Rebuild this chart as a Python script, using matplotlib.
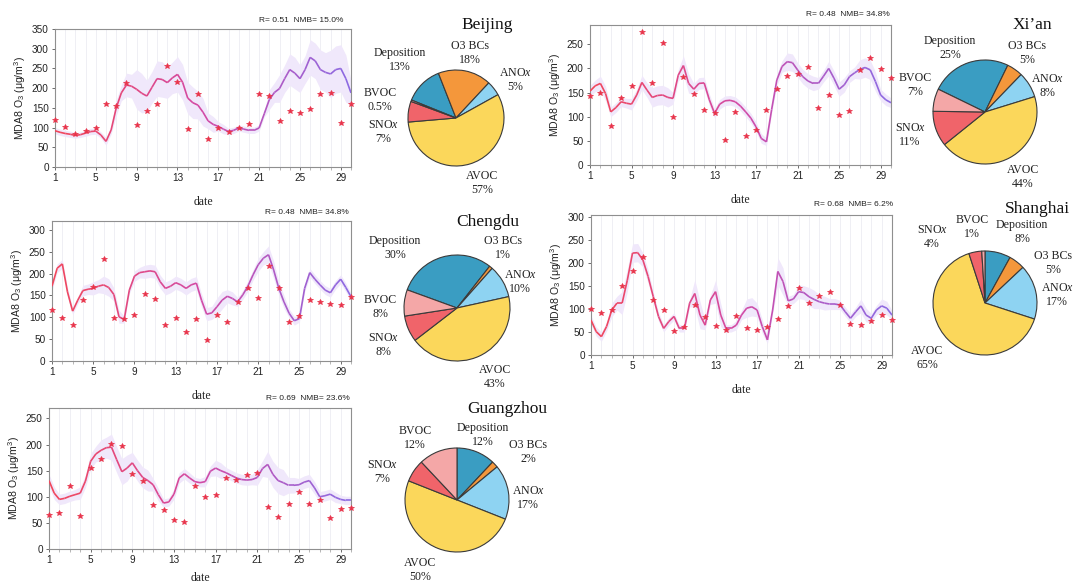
import numpy as np
import matplotlib
matplotlib.use("Agg")
import matplotlib.pyplot as plt
from matplotlib.collections import LineCollection
from matplotlib.colors import LinearSegmentedColormap

plt.rcParams['font.family'] = 'Liberation Sans'
plt.rcParams['mathtext.fontset'] = 'custom'
plt.rcParams['mathtext.rm'] = 'Liberation Sans'
plt.rcParams['mathtext.it'] = 'Liberation Serif:italic'

# ---------------- data ----------------
days = list(range(1, 31))
half_days = [1 + 0.5 * i for i in range(59)]
xtick_days = [1, 5, 9, 13, 17, 21, 25, 29]

beijing_obs = [120, 102, 83, 91, 99, 160, 155, 213, 107, 141, 160, 256, 216, 97, 184,
               71, 100, 88, 100, 110, 186, 180, 116, 141, 136, 147, 185, 188, 112, 160]
beijing_model = [92, 88, 85, 83, 80, 82, 86, 90, 91, 81, 65, 94, 150, 188, 208, 205, 197, 187,
                 180, 202, 224, 222, 214, 226, 235, 215, 175, 163, 157, 139, 117, 108, 103, 96,
                 90, 93, 99, 96, 93, 93, 99, 135, 171, 189, 199, 224, 247, 238, 224, 247, 278,
                 269, 247, 240, 236, 247, 250, 224, 188]
beijing_spread = [8, 8, 7, 8, 8, 10, 20, 30, 50, 40, 45, 40, 45, 40, 35,
                  20, 12, 8, 8, 8, 8, 25, 35, 40, 35, 45, 50, 60, 60, 30]

xian_obs = [143, 150, 81, 139, 164, 275, 169, 252, 99, 182, 147, 114, 107, 51, 110,
            61, 72, 113, 158, 185, 189, 202, 119, 146, 103, 112, 196, 221, 199, 181]
xian_model = [153, 164, 169, 148, 110, 119, 131, 128, 126, 145, 171, 155, 140, 144, 145, 140,
              138, 186, 206, 169, 157, 169, 170, 135, 107, 126, 133, 134, 131, 122, 110, 97,
              79, 55, 48, 115, 176, 204, 214, 212, 197, 183, 174, 169, 169, 184, 200, 180,
              157, 166, 183, 191, 198, 202, 197, 173, 145, 135, 129]
xian_spread = [12, 15, 10, 10, 12, 15, 20, 20, 12, 20, 12, 12, 10, 10, 10,
               10, 10, 8, 12, 18, 15, 15, 12, 15, 15, 12, 20, 20, 12, 10]

chengdu_obs = [116, 99, 83, 139, 170, 233, 99, 95, 106, 153, 142, 83, 99, 67, 95,
               47, 105, 90, 135, 167, 145, 217, 166, 90, 102, 139, 135, 131, 129, 147]
chengdu_model = [171, 212, 222, 158, 114, 139, 161, 164, 166, 171, 174, 168, 152, 101, 95, 162,
                 194, 202, 204, 206, 204, 181, 166, 171, 179, 174, 166, 174, 178, 139, 107, 110,
                 124, 139, 148, 143, 135, 151, 171, 197, 220, 235, 243, 208, 166, 135, 109, 92,
                 97, 166, 202, 187, 174, 162, 156, 174, 187, 168, 147]
chengdu_spread = [10, 10, 8, 12, 15, 20, 15, 8, 12, 15, 15, 15, 15, 15, 15,
                  15, 20, 15, 10, 12, 15, 20, 15, 10, 8, 10, 10, 10, 10, 8]

shanghai_obs = [101, 92, 97, 150, 184, 214, 119, 97, 53, 60, 108, 82, 64, 54, 84,
                59, 54, 61, 78, 106, 147, 113, 129, 137, 109, 68, 66, 75, 87, 76]
shanghai_model = [76, 51, 40, 62, 98, 113, 113, 163, 222, 223, 207, 171, 127, 84, 58, 73, 84,
                  58, 58, 113, 134, 87, 65, 120, 138, 87, 58, 58, 65, 87, 102, 105, 98, 62, 33,
                  98, 182, 160, 118, 122, 138, 136, 127, 121, 116, 113, 111, 111, 109, 94, 80,
                  94, 107, 87, 80, 98, 107, 102, 87]
shanghai_spread = [10, 10, 15, 25, 20, 15, 10, 8, 8, 8, 30, 10, 25, 8, 10,
                   20, 15, 8, 30, 10, 15, 20, 15, 12, 10, 10, 15, 10, 15, 10]

guangzhou_obs = [66, 68, 121, 63, 155, 173, 201, 198, 144, 131, 84, 75, 55, 52, 120,
                 100, 104, 136, 132, 142, 146, 81, 62, 86, 109, 86, 94, 60, 77, 78]
guangzhou_model = [131, 107, 95, 97, 101, 104, 107, 130, 168, 182, 189, 194, 195, 171, 148, 155,
                   165, 150, 137, 131, 123, 104, 88, 90, 105, 136, 144, 136, 129, 127, 129, 149,
                   155, 150, 146, 141, 136, 133, 132, 133, 137, 154, 162, 143, 131, 127, 122,
                   122, 123, 128, 131, 117, 100, 102, 105, 99, 95, 93, 93]
guangzhou_spread = [12, 10, 10, 12, 15, 20, 25, 25, 20, 20, 12, 8, 10, 10, 8,
                    10, 15, 10, 10, 10, 15, 25, 25, 15, 12, 12, 10, 10, 8, 8]

stats_beijing = "R= 0.51  NMB= 15.0%"
stats_xian = "R= 0.48  NMB= 34.8%"
stats_chengdu = "R= 0.48  NMB= 34.8%"
stats_shanghai = "R= 0.68  NMB= 6.2%"
stats_guangzhou = "R= 0.69  NMB= 23.6%"

pie_sources = ["Deposition", "O3 BCs", "ANO$x$", "AVOC", "SNO$x$", "BVOC"]
pie_beijing = [13, 18, 5, 57, 7, 0.5]
pie_xian = [25, 5, 8, 44, 11, 7]
pie_chengdu = [30, 1, 10, 43, 8, 8]
pie_shanghai = [8, 5, 17, 65, 4, 1]
pie_guangzhou = [12, 2, 17, 50, 7, 12]

# ---------------- style / layout ----------------
W, H = 1080, 585
pie_colors = ['#3a9dc2', '#f4973b', '#8ed3f2', '#fbd75b', '#f0646a', '#f4a7a7']
line_cmap = LinearSegmentedColormap.from_list('o3', ['#f2475a', '#d24aa6', '#8c6be3'])
obs_color = '#e8334a'
band_color = '#f0e8fb'
serif = 'Liberation Serif'


def rect(l, t, r, b):
    return [l / W, 1 - b / H, (r - l) / W, (b - t) / H]


fig = plt.figure(figsize=(10.8, 5.85), dpi=100)


def line_panel(box, obs, model, spread, ylim, yticks, stats, stats_xy, date_pad=9):
    ax = fig.add_axes(rect(*box))
    xh = np.array(half_days)
    m = np.array(model, dtype=float)
    w = np.repeat(np.array(spread, dtype=float), 2)[:-1]
    ax.fill_between(xh, m - w, m + w, color=band_color, lw=0, zorder=1)
    pts = np.column_stack([xh, m]).reshape(-1, 1, 2)
    segs = np.concatenate([pts[:-1], pts[1:]], axis=1)
    lc = LineCollection(segs, cmap=line_cmap, norm=plt.Normalize(1, 30), lw=1.2, zorder=3)
    lc.set_array(0.5 * (xh[:-1] + xh[1:]))
    ax.add_collection(lc)
    ax.plot(days, obs, ls='none', marker='*', ms=4.3, color=obs_color,
            mec=obs_color, mew=0.5, clip_on=False, zorder=5)
    ax.set_xlim(1, 30)
    ax.set_ylim(*ylim)
    ax.set_xticks(xtick_days)
    ax.set_xticks(days, minor=True)
    ax.set_yticks(yticks)
    ax.grid(which='both', axis='x', color='#ececf2', lw=0.6, zorder=0)
    ax.set_axisbelow(True)
    for s in ax.spines.values():
        s.set_color('#8f8f8f')
        s.set_linewidth(0.8)
    ax.tick_params(axis='both', which='major', labelsize=7.2, colors='#555555',
                   labelcolor='#222222', length=2.5, width=0.6, pad=2)
    ax.tick_params(axis='x', which='minor', length=2, width=0.5, colors='#999999')
    ax.set_xlabel('date', family=serif, fontsize=8.5, labelpad=date_pad, color='#222222')
    ax.set_ylabel('MDA8 O$_3$ (μg/m$^3$)', fontsize=7.6, labelpad=3, color='#222222')
    fig.text(stats_xy[0] / W, 1 - stats_xy[1] / H, stats, ha='right', va='center',
             fontsize=6, color='#222222')
    return ax


line_panel((55, 29, 351, 167), beijing_obs, beijing_model, beijing_spread,
           (0, 350), range(0, 351, 50), stats_beijing, (343, 20))
line_panel((590, 25, 891, 165), xian_obs, xian_model, xian_spread,
           (0, 290), range(0, 251, 50), stats_xian, (890, 15))
line_panel((52, 221, 351, 361), chengdu_obs, chengdu_model, chengdu_spread,
           (0, 320), range(0, 301, 50), stats_chengdu, (349, 212))
line_panel((591, 215, 892, 355), shanghai_obs, shanghai_model, shanghai_spread,
           (0, 305), range(0, 301, 50), stats_shanghai, (893, 204))
line_panel((49, 408, 351, 549), guangzhou_obs, guangzhou_model, guangzhou_spread,
           (0, 270), range(0, 251, 50), stats_guangzhou, (350, 399), date_pad=5)


def pie_panel(center, radius, shares, start, title, title_xy, label_xy):
    cx, cy = center
    ax = fig.add_axes(rect(cx - 100, cy - 100, cx + 100, cy + 100))
    ax.pie(shares, colors=pie_colors, startangle=start, counterclock=False,
           radius=radius, wedgeprops=dict(edgecolor='#3a3a3a', linewidth=0.8))
    ax.set_xlim(-100, 100)
    ax.set_ylim(-100, 100)
    ax.set_aspect('auto')
    ax.axis('off')
    for name, val, (dx, dy) in zip(pie_sources, shares, label_xy):
        ax.text(dx, dy, f"{name}\n{val:g}%", ha='center', va='center',
                family=serif, fontsize=8.6, linespacing=1.15, color='#222222')
    fig.text(title_xy[0] / W, 1 - title_xy[1] / H, title, ha='center', va='center',
             family=serif, fontsize=12.5, color='#111111')


pie_panel((456, 118), 48, pie_beijing, 158, 'Beijing', (487, 25),
          [(-56, 58), (14, 65), (59, 38), (26, -65), (-73, -14), (-76, 18)])
pie_panel((985, 112), 52, pie_xian, 154, 'Xi’an', (1032, 25),
          [(-35, 64), (42, 59), (62, 26), (38, -65), (-75, -23), (-70, 27)])
pie_panel((457, 308), 53, pie_chengdu, 160, 'Chengdu', (488, 222),
          [(-62, 60), (46, 60), (63, 26), (38, -69), (-74, -37), (-77, 1)])
pie_panel((985, 303), 52, pie_shanghai, 90, 'Shanghai', (1037, 209),
          [(37, 71), (68, 40), (72, 8), (-58, -55), (-53, 66), (-13, 76)])
pie_panel((457, 500), 52, pie_guangzhou, 90, 'Guangzhou', (507, 409),
          [(26, 65), (71, 48), (71, 2), (-37, -70), (-75, 28), (-42, 62)])

fig.savefig('out.png', dpi=100)
